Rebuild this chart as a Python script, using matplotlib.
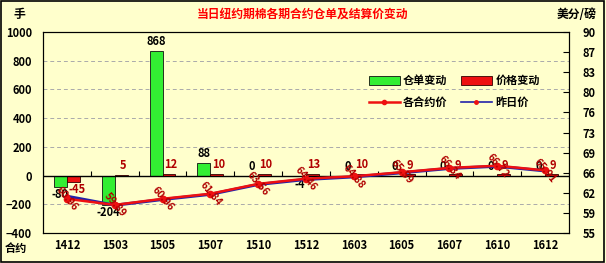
import numpy as np
import matplotlib
matplotlib.use("Agg")
import matplotlib.pyplot as plt
from matplotlib.lines import Line2D
from matplotlib.patches import Patch

plt.rcParams['font.family'] = ['Noto Sans CJK SC', 'DejaVu Sans']
plt.rcParams['font.weight'] = 'bold'

# 数据
contracts = ["1412", "1503", "1505", "1507", "1510", "1512", "1603", "1605", "1607", "1610", "1612"]
cert_change = [-80, -204, 868, 88, 0, -4, 0, 0, 0, 0, 0]          # 仓单变动 (手)
price_change = [-45, 5, 12, 10, 10, 13, 10, 9, 9, 9, 9]           # 价格变动
settle = [60.96, 59.89, 60.96, 61.84, 63.56, 64.46, 64.88, 65.59, 66.34, 66.72, 65.91]   # 各合约价
prev_settle = [61.41, 59.84, 60.84, 61.74, 63.46, 64.33, 64.78, 65.50, 66.25, 66.63, 65.82]  # 昨日价
left_ticks = [-400, -200, 0, 200, 400, 600, 800, 1000]
right_ticks = [55, 58.5, 62, 65.5, 69, 72.5, 76, 79.5, 83, 86.5, 90]

bg = "#FFFFCC"
green = "#33EE33"
red = "#EE1111"
darkred = "#B00000"

fig = plt.figure(figsize=(6.06, 2.63), dpi=100, facecolor=bg)
fig.patches.append(plt.Rectangle((0.002, 0.004), 0.995, 0.992, transform=fig.transFigure,
                                 fill=False, edgecolor="black", linewidth=1.2))
ax = fig.add_axes([0.071, 0.114, 0.868, 0.764])
ax.set_facecolor(bg)
ax2 = ax.twinx()

x = np.arange(len(contracts))
w = 0.27
b1 = ax.bar(x - w / 2, cert_change, w, color=green, edgecolor="#111111", linewidth=0.6, zorder=3)
b2 = ax.bar(x + w / 2, price_change, w, color=red, edgecolor="#330000", linewidth=0.6, zorder=3)

ax.set_ylim(-400, 1000)
ax.set_xlim(-0.5, len(contracts) - 0.5)
ax.set_yticks(left_ticks)
ax.grid(axis="y", linestyle=(0, (4, 3)), color="#AAAAAA", linewidth=0.7)
ax.set_axisbelow(True)
ax.axhline(0, color="black", linewidth=1.0, zorder=4)
for i in range(len(contracts) + 1):
    ax.vlines(i - 0.5, 0, 30, color="black", linewidth=0.8, zorder=4)

ax.set_xticks(x)
ax.set_xticklabels(contracts, fontsize=8)
ax.tick_params(axis="x", length=0, pad=4)
ax.tick_params(axis="y", length=0, labelsize=8, pad=8)
for s in ax.spines.values():
    s.set_linewidth(0.8)

# 柱子标签
for i, v in enumerate(cert_change):
    if v >= 0:
        ax.annotate(str(v), (x[i] - w / 2, v), xytext=(0, 2), textcoords="offset points",
                    ha="center", va="bottom", fontsize=8, color="black", zorder=6)
    else:
        ax.annotate(str(v), (x[i] - w / 2, v), xytext=(0, -1), textcoords="offset points",
                    ha="center", va="top", fontsize=8, color="black", zorder=6)
for i, v in enumerate(price_change):
    if v >= 0:
        ax.annotate(str(v), (x[i] + w / 2, v), xytext=(1, 2), textcoords="offset points",
                    ha="center", va="bottom", fontsize=8, color=darkred, zorder=6)
    else:
        ax.annotate(str(v), (x[i] + w / 2, v), xytext=(3, -1), textcoords="offset points",
                    ha="center", va="top", fontsize=8, color=darkred, zorder=6)

# 右轴 价格
ax2.plot(x, prev_settle, color="#2222AA", linewidth=2.2, marker="o", markersize=2.5,
         markerfacecolor=red, markeredgecolor=red, zorder=4)
ax2.plot(x, settle, color="#EE1111", linewidth=1.8, marker="o", markersize=4.5,
         markerfacecolor=red, markeredgecolor=red, zorder=5)
ax2.set_ylim(55, 90)
ax2.set_yticks(right_ticks)
ax2.set_yticklabels([str(int(v + 0.5)) for v in right_ticks], fontsize=8)
ax2.tick_params(axis="y", direction="in", length=4, width=0.8, pad=10)
for i, v in enumerate(settle):
    ax2.text(x[i], v, f"{v:.2f}", rotation=-50, ha="center", va="center",
             fontsize=7.5, color=darkred, zorder=7, rotation_mode="anchor")

# 文字
fig.text(0.5, 0.945, "当日纽约期棉各期合约仓单及结算价变动", ha="center", va="center",
         color="#FF0000", fontsize=8.5, fontweight="bold")
fig.text(0.022, 0.945, "手", ha="left", va="center", fontsize=8.5)
fig.text(0.985, 0.945, "美分/磅", ha="right", va="center", fontsize=8.5)
fig.text(0.008, 0.055, "合约", ha="left", va="center", fontsize=8)

handles = [Patch(facecolor=green, edgecolor="#111111", linewidth=0.6),
           Line2D([], [], color="#EE1111", linewidth=1.8, marker="o", markersize=3),
           Patch(facecolor=red, edgecolor="#330000", linewidth=0.6),
           Line2D([], [], color="#2222AA", linewidth=1.2, marker="o", markersize=2.5,
                  markerfacecolor=red, markeredgecolor=red)]
labels = ["仓单变动", "各合约价", "价格变动", "昨日价"]
ax.legend(handles, labels, ncol=2, loc="upper left", bbox_to_anchor=(0.6, 0.84),
          frameon=False, fontsize=8, handlelength=2.8, handleheight=0.8,
          columnspacing=1.2, labelspacing=0.8, handletextpad=0.3)

fig.savefig("out.png", dpi=100, facecolor=bg)
